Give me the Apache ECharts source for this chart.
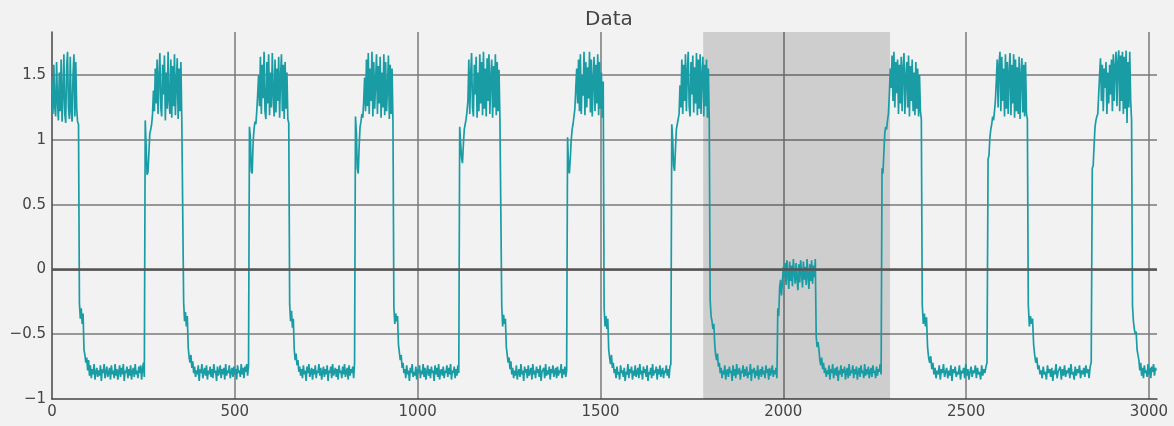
<!DOCTYPE html>
<html>
<head>
<meta charset="utf-8">
<script src="https://cdn.jsdelivr.net/npm/echarts@6/dist/echarts.min.js"></script>
<style>
html,body{margin:0;padding:0;background:#f2f2f2;}
#chart{width:1174px;height:426px;}
</style>
</head>
<body>
<div id="chart"></div>
<script>
// ---- data ----
// boundaries (x) of each high / low stretch of the trace; last entry is the end of the record
const segBounds = [0, 75, 255, 360, 540, 650, 830, 935, 1115, 1230, 1410, 1510, 1695, 1800, 1985, 2090, 2270, 2380, 2560, 2670, 2845, 2955, 3022.5];

const hi0 = [1.45,1.20,1.58,1.25,1.18,1.60,1.30,1.15,1.52,1.22,1.62,1.14,1.35,1.66,1.20,1.13,1.55,1.68,1.25,1.16,1.64,1.22,1.14,1.50,1.66,1.18,1.60,1.24,1.14,1.12];
const lo1 = [-0.26,-0.38,-0.30,-0.42,-0.34,-0.62,-0.66,-0.72,-0.68,-0.78,-0.70,-0.82,
-0.74,-0.84,-0.77,-0.81,-0.73,-0.85,-0.79,-0.76,-0.83,-0.78,-0.82,-0.74,-0.86,-0.77,-0.80,-0.73,-0.84,-0.79,-0.75,-0.83,
-0.80,-0.76,-0.85,-0.74,-0.81,-0.78,-0.84,-0.73,-0.82,-0.77,-0.85,-0.79,-0.74,-0.83,-0.76,-0.81,-0.73,-0.86,-0.78,-0.80,
-0.75,-0.84,-0.77,-0.82,-0.74,-0.85,-0.79,-0.76,-0.83,-0.73,-0.81,-0.78,-0.84,-0.75,-0.80,-0.74,-0.85,-0.77,-0.72,-0.83];
const hi1 = [1.15,0.95,0.73,0.75,0.90,1.05,1.08,1.12,1.20,1.38,
1.22,1.55,1.28,1.62,1.20,1.48,1.67,1.25,1.18,1.58,1.35,1.65,1.15,1.52,1.24,1.68,1.30,1.20,1.62,1.17,
1.57,1.26,1.66,1.19,1.44,1.63,1.16,1.55,1.22,1.60,1.15,1.14];
const lo2 = [-0.25,-0.40,-0.33,-0.44,-0.36,-0.60,-0.68,-0.72,-0.66,-0.76,-0.71,-0.80,
-0.75,-0.83,-0.78,-0.81,-0.74,-0.86,-0.77,-0.80,-0.73,-0.84,-0.79,-0.76,-0.82,-0.74,-0.85,-0.78,-0.81,-0.75,-0.83,-0.77,
-0.84,-0.73,-0.80,-0.78,-0.86,-0.75,-0.82,-0.79,-0.74,-0.84,-0.77,-0.81,-0.76,-0.85,-0.73,-0.82,-0.78,-0.80,-0.74,-0.84,
-0.79,-0.76,-0.83,-0.75,-0.81,-0.77,-0.85,-0.74,-0.80,-0.78,-0.83,-0.73,-0.81,-0.76,-0.84,-0.75,-0.79,-0.73,-0.82,-0.74];
const hi2 = [1.10,1.02,0.76,0.74,0.98,1.08,1.14,1.12,1.22,1.35,
1.50,1.26,1.64,1.20,1.58,1.32,1.68,1.22,1.16,1.60,1.28,1.66,1.19,1.52,1.25,1.67,1.35,1.18,1.62,1.21,
1.55,1.30,1.64,1.17,1.48,1.66,1.22,1.58,1.16,1.60,1.24,1.52,1.16,1.13];
const lo3 = [-0.27,-0.40,-0.32,-0.45,-0.38,-0.62,-0.70,-0.65,-0.74,-0.70,-0.79,-0.75,
-0.82,-0.77,-0.84,-0.74,-0.81,-0.78,-0.86,-0.75,-0.80,-0.73,-0.83,-0.79,-0.76,-0.85,-0.77,-0.81,-0.74,-0.84,-0.78,-0.80,
-0.73,-0.82,-0.76,-0.85,-0.79,-0.75,-0.83,-0.77,-0.81,-0.74,-0.86,-0.78,-0.80,-0.75,-0.84,-0.73,-0.82,-0.79,-0.76,-0.83,
-0.77,-0.85,-0.74,-0.80,-0.78,-0.84,-0.75,-0.81,-0.73,-0.83,-0.79,-0.76,-0.85,-0.74,-0.82,-0.77,-0.80,-0.75,-0.84,-0.72];
const hi3 = [1.18,1.05,0.78,0.74,0.95,1.10,1.14,1.20,1.17,1.30,
1.48,1.22,1.62,1.26,1.67,1.20,1.55,1.30,1.68,1.18,1.60,1.24,1.45,1.66,1.20,1.57,1.28,1.64,1.17,1.52,
1.25,1.66,1.19,1.60,1.22,1.40,1.65,1.16,1.58,1.20,1.55,1.14];
const lo4 = [-0.29,-0.42,-0.34,-0.40,-0.36,-0.58,-0.64,-0.70,-0.66,-0.76,-0.72,-0.80,
-0.77,-0.84,-0.74,-0.81,-0.78,-0.86,-0.76,-0.80,-0.73,-0.83,-0.79,-0.82,-0.75,-0.85,-0.77,-0.80,-0.74,-0.84,-0.78,-0.81,
-0.73,-0.83,-0.76,-0.85,-0.79,-0.74,-0.82,-0.77,-0.84,-0.75,-0.80,-0.78,-0.86,-0.74,-0.81,-0.76,-0.83,-0.73,-0.85,-0.79,
-0.77,-0.82,-0.75,-0.84,-0.78,-0.80,-0.74,-0.83,-0.76,-0.81,-0.73,-0.85,-0.78,-0.80,-0.75,-0.84,-0.77,-0.82,-0.74,-0.80];
const hi4 = [1.10,0.98,0.86,0.82,0.96,1.08,1.12,1.16,1.22,1.30,
1.62,1.20,1.50,1.67,1.25,1.18,1.58,1.35,1.64,1.17,1.52,1.22,1.66,1.28,1.60,1.19,1.68,1.24,1.55,1.18,
1.63,1.30,1.66,1.20,1.48,1.62,1.17,1.57,1.25,1.66,1.19,1.60,1.22,1.54,1.16,1.15];
const lo5 = [-0.28,-0.44,-0.35,-0.42,-0.38,-0.60,-0.66,-0.72,-0.68,-0.77,-0.71,-0.81,
-0.76,-0.84,-0.78,-0.82,-0.74,-0.85,-0.79,-0.77,-0.83,-0.73,-0.81,-0.78,-0.86,-0.75,-0.80,-0.77,-0.84,-0.74,-0.82,-0.79,
-0.76,-0.85,-0.73,-0.81,-0.78,-0.84,-0.75,-0.80,-0.77,-0.83,-0.74,-0.86,-0.79,-0.80,-0.76,-0.84,-0.73,-0.82,-0.78,-0.81,
-0.75,-0.85,-0.77,-0.80,-0.74,-0.83,-0.79,-0.76,-0.84,-0.75,-0.82,-0.78,-0.80,-0.73,-0.84,-0.77,-0.81,-0.75,-0.83,-0.78];
const hi5 = [1.02,0.80,0.74,0.86,1.00,1.08,1.12,1.18,1.24,1.40,
1.55,1.28,1.62,1.22,1.66,1.20,1.50,1.34,1.68,1.19,1.60,1.25,1.56,1.32,1.68,1.21,1.62,1.18,1.46,1.64,
1.22,1.58,1.28,1.66,1.19,1.60,1.24,1.52,1.17,1.45];
const lo6 = [-0.30,-0.44,-0.36,-0.46,-0.38,-0.62,-0.68,-0.73,-0.66,-0.76,-0.72,-0.80,
-0.77,-0.84,-0.75,-0.81,-0.79,-0.85,-0.74,-0.80,-0.78,-0.83,-0.76,-0.86,-0.79,-0.81,-0.73,-0.84,-0.77,-0.80,-0.75,-0.85,
-0.78,-0.82,-0.74,-0.83,-0.79,-0.76,-0.84,-0.73,-0.81,-0.78,-0.85,-0.75,-0.80,-0.77,-0.83,-0.74,-0.86,-0.79,-0.81,-0.76,
-0.84,-0.73,-0.82,-0.78,-0.80,-0.75,-0.85,-0.77,-0.81,-0.74,-0.83,-0.79,-0.76,-0.84,-0.78,-0.80,-0.74,-0.82,-0.77,-0.84,
-0.75,-0.73];
const hi6 = [1.12,1.00,0.80,0.76,0.92,1.08,1.12,1.16,1.20,1.42,
1.25,1.62,1.20,1.58,1.30,1.66,1.22,1.52,1.68,1.26,1.18,1.60,1.35,1.65,1.21,1.56,1.28,1.67,1.19,1.62,
1.24,1.66,1.20,1.50,1.64,1.18,1.58,1.26,1.62,1.17,1.55,1.15];
const lo7 = [-0.24,-0.36,-0.40,-0.46,-0.42,-0.58,-0.66,-0.70,-0.65,-0.75,-0.72,-0.80,
-0.76,-0.84,-0.78,-0.81,-0.74,-0.85,-0.79,-0.77,-0.83,-0.75,-0.80,-0.78,-0.86,-0.74,-0.82,-0.77,-0.84,-0.73,-0.81,-0.79,
-0.76,-0.85,-0.78,-0.80,-0.74,-0.83,-0.77,-0.82,-0.75,-0.84,-0.79,-0.81,-0.73,-0.86,-0.77,-0.80,-0.76,-0.84,-0.78,-0.82,
-0.74,-0.85,-0.79,-0.77,-0.83,-0.75,-0.81,-0.78,-0.84,-0.74,-0.80,-0.77,-0.85,-0.76,-0.82,-0.79,-0.74,-0.83,-0.78,-0.81,
-0.76,-0.84];
const mid = [-0.30,-0.36,-0.14,-0.08,-0.20,-0.10,0.02,-0.06,0.05,-0.12,
0.07,-0.04,-0.15,0.06,-0.09,0.03,-0.13,0.08,-0.02,-0.11,0.05,-0.07,-0.16,0.04,-0.10,0.07,-0.03,-0.14,0.06,-0.08,
0.02,-0.12,0.08,-0.05,-0.15,0.04,-0.09,0.07,-0.11,0.03,-0.06,0.08];
const lo8 = [-0.52,-0.60,-0.56,-0.62,-0.70,-0.74,-0.68,-0.77,-0.72,-0.80,-0.76,-0.83,
-0.78,-0.81,-0.74,-0.85,-0.77,-0.80,-0.73,-0.84,-0.79,-0.76,-0.82,-0.75,-0.86,-0.78,-0.81,-0.74,-0.83,-0.77,-0.80,-0.75,
-0.85,-0.79,-0.76,-0.84,-0.73,-0.82,-0.78,-0.80,-0.74,-0.84,-0.77,-0.81,-0.75,-0.85,-0.79,-0.76,-0.83,-0.74,-0.80,-0.78,
-0.84,-0.73,-0.82,-0.77,-0.81,-0.75,-0.84,-0.79,-0.76,-0.83,-0.74,-0.80,-0.78,-0.84,-0.75,-0.82,-0.77,-0.79,-0.73,-0.81];
const hi7 = [0.78,0.74,0.90,1.05,1.10,1.08,1.15,1.20,1.35,1.55,
1.40,1.65,1.30,1.68,1.25,1.60,1.36,1.62,1.20,1.58,1.28,1.64,1.22,1.55,1.67,1.20,1.48,1.60,1.25,1.65,
1.18,1.57,1.30,1.62,1.22,1.52,1.19,1.60,1.24,1.55,1.18,1.50,1.22,1.16];
const lo9 = [-0.27,-0.42,-0.34,-0.44,-0.37,-0.60,-0.68,-0.72,-0.67,-0.77,-0.72,-0.81,
-0.76,-0.84,-0.78,-0.81,-0.74,-0.85,-0.77,-0.80,-0.73,-0.83,-0.79,-0.76,-0.84,-0.78,-0.82,-0.74,-0.86,-0.77,-0.80,-0.75,
-0.83,-0.79,-0.81,-0.74,-0.85,-0.78,-0.80,-0.76,-0.84,-0.73,-0.82,-0.77,-0.85,-0.79,-0.75,-0.83,-0.78,-0.80,-0.74,-0.84,
-0.76,-0.81,-0.79,-0.85,-0.74,-0.82,-0.77,-0.80,-0.75,-0.72];
const hi8 = [0.85,0.88,1.02,1.08,1.12,1.18,1.15,1.22,1.30,1.45,
1.62,1.25,1.58,1.68,1.22,1.64,1.30,1.55,1.18,1.66,1.24,1.60,1.20,1.52,1.67,1.19,1.58,1.28,1.66,1.17,
1.62,1.22,1.56,1.20,1.64,1.16,1.50,1.63,1.21,1.58,1.18,1.60,1.20,1.16];
const lo10 = [-0.27,-0.44,-0.36,-0.42,-0.38,-0.58,-0.66,-0.72,-0.68,-0.77,-0.74,-0.81,
-0.78,-0.84,-0.75,-0.81,-0.79,-0.85,-0.74,-0.80,-0.77,-0.83,-0.76,-0.86,-0.78,-0.81,-0.73,-0.84,-0.79,-0.80,-0.75,-0.85,
-0.77,-0.82,-0.74,-0.83,-0.78,-0.80,-0.76,-0.84,-0.73,-0.81,-0.79,-0.85,-0.75,-0.82,-0.77,-0.80,-0.74,-0.84,-0.78,-0.81,
-0.76,-0.83,-0.74,-0.80,-0.77,-0.84,-0.75,-0.72];
const hi9 = [0.78,0.80,0.96,1.10,1.15,1.18,1.20,1.35,1.50,1.63,
1.30,1.58,1.22,1.55,1.40,1.60,1.20,1.52,1.28,1.58,1.35,1.62,1.22,1.66,1.30,1.56,1.68,1.26,1.60,1.69,
1.22,1.65,1.30,1.68,1.20,1.64,1.24,1.69,1.13,1.60,1.25,1.68,1.30,1.15];
const lo11 = [-0.28,-0.40,-0.46,-0.50,-0.48,-0.62,-0.66,-0.70,-0.78,-0.72,-0.82,-0.76,-0.84,-0.74,-0.80,-0.78,-0.83,-0.73,-0.81,-0.76,-0.84,-0.75,-0.79,-0.73,-0.82,-0.76,-0.78];

const segments = [hi0, lo1, hi1, lo2, hi2, lo3, hi3, lo4, hi4, lo5, hi5, lo6, hi6, lo7, mid, lo8, hi7, lo9, hi8, lo10, hi9, lo11];

const shadeRange = [1781, 2292];
const xRange = [0, 3022];
const yRange = [-1, 1.832];
const xTickStep = 500;
const yTickStep = 0.5;
const titleText = 'Data';

// ---- build series data: samples evenly spaced inside each stretch ----
const points = [];
segments.forEach((seg, k) => {
  const x0 = segBounds[k], x1 = segBounds[k + 1];
  const dx = (x1 - x0) / seg.length;
  seg.forEach((v, i) => points.push([x0 + i * dx, v]));
});

const FONT = '"DejaVu Sans", Verdana, sans-serif';
const chart = echarts.init(document.getElementById('chart'), null, {renderer: 'canvas'});
chart.setOption({
  backgroundColor: '#f2f2f2',
  animation: false,
  title: {
    text: titleText,
    left: 604, textAlign: 'center', top: 5,
    textStyle: {fontFamily: FONT, fontSize: 20, fontWeight: 'normal', color: '#444'}
  },
  grid: {left: 52, right: 17, top: 32, bottom: 27, containLabel: false},
  xAxis: {
    type: 'value', min: xRange[0], max: xRange[1], interval: xTickStep,
    axisLine: {show: true, onZero: false, lineStyle: {color: '#444', width: 1.5}},
    axisTick: {show: false},
    axisLabel: {showMaxLabel: false, color: '#444', fontFamily: FONT, fontSize: 15, margin: 6,
      formatter: v => String(v)},
    splitLine: {show: true, showMinLine: false, showMaxLine: false, lineStyle: {color: '#7a7a7a', width: 1.5}}
  },
  yAxis: {
    type: 'value', min: yRange[0], max: yRange[1], interval: yTickStep,
    axisLine: {show: true, onZero: false, lineStyle: {color: '#444', width: 1.5}},
    axisTick: {show: false},
    axisLabel: {showMaxLabel: false, color: '#444', fontFamily: FONT, fontSize: 15, margin: 6,
      formatter: v => String(v).replace('-', '\u2212')},
    splitLine: {show: true, showMinLine: false, showMaxLine: false, lineStyle: {color: '#7a7a7a', width: 1.5}}
  },
  series: [{
    type: 'line',
    data: points,
    showSymbol: false,
    symbol: 'none',
    lineStyle: {color: '#1a9ca5', width: 1.7},
    markArea: {
      silent: true,
      itemStyle: {color: 'rgba(0,0,0,0.15)'},
      data: [[{xAxis: shadeRange[0]}, {xAxis: shadeRange[1]}]]
    },
    markLine: {
      silent: true, symbol: 'none', label: {show: false},
      lineStyle: {color: '#555', width: 2.5, type: 'solid'},
      data: [{yAxis: 0}]
    }
  }]
});
</script>
</body>
</html>
